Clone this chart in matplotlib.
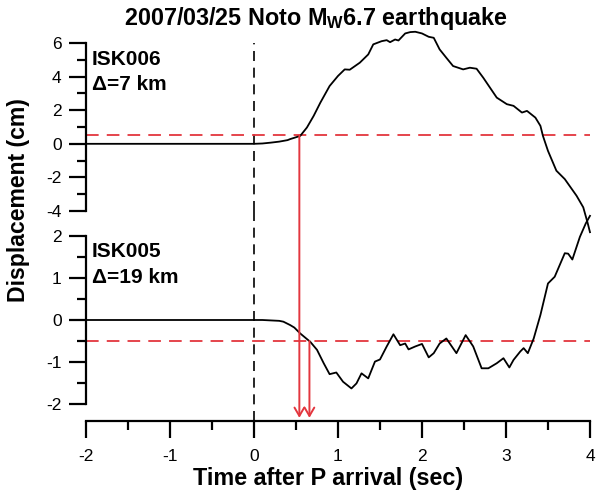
import matplotlib
matplotlib.use('Agg')
import matplotlib.pyplot as plt
from matplotlib.ticker import MultipleLocator

plt.rcParams['font.family'] = ['Liberation Sans', 'DejaVu Sans']
plt.rcParams['axes.unicode_minus'] = False
plt.rcParams['mathtext.fontset'] = 'custom'
plt.rcParams['mathtext.rm'] = 'Liberation Sans:bold'
plt.rcParams['mathtext.bf'] = 'Liberation Sans:bold'

# ISK006 displacement (cm)
t6 = [-2.0, 0.0, 0.1, 0.2, 0.3, 0.4, 0.43, 0.55, 0.63, 0.71, 0.79, 0.9, 1.0,
      1.08, 1.14, 1.26, 1.36, 1.42, 1.52, 1.58, 1.62, 1.68, 1.72, 1.8, 1.86,
      1.92, 2.0, 2.08, 2.14, 2.21, 2.29, 2.37, 2.49, 2.57, 2.65, 2.73, 2.81,
      2.89, 3.01, 3.09, 3.19, 3.25, 3.35, 3.41, 3.44, 3.5, 3.6, 3.7, 3.84,
      3.92, 3.97, 4.0]
d6 = [0.0, 0.0, 0.02, 0.07, 0.13, 0.22, 0.28, 0.47, 0.97, 1.66, 2.45, 3.44, 4.04,
      4.43, 4.41, 4.83, 5.32, 5.92, 6.11, 6.17, 6.05, 6.21, 6.15, 6.57, 6.65,
      6.67, 6.57, 6.37, 6.31, 5.62, 5.12, 4.63, 4.43, 4.53, 4.47, 3.93, 3.34,
      2.75, 2.36, 2.26, 1.86, 1.96, 1.56, 1.07, 0.47, -0.42, -1.6, -2.1, -3.09,
      -3.78, -4.67, -5.26]

# ISK005 displacement (cm)
t5 = [-2.0, 0.0, 0.1, 0.2, 0.3, 0.35, 0.43, 0.48, 0.55, 0.67, 0.75, 0.83, 0.9,
      0.98, 1.06, 1.16, 1.22, 1.28, 1.36, 1.44, 1.5, 1.58, 1.66, 1.74, 1.8,
      1.84, 1.92, 2.0, 2.08, 2.14, 2.21, 2.29, 2.41, 2.52, 2.61, 2.71, 2.79,
      2.89, 2.97, 3.04, 3.09, 3.17, 3.21, 3.26, 3.33, 3.41, 3.5, 3.58, 3.7,
      3.74, 3.79, 3.88, 3.95, 4.0]
d5 = [0.0, 0.0, 0.0, -0.01, -0.02, -0.04, -0.12, -0.18, -0.32, -0.52, -0.71,
      -1.03, -1.29, -1.25, -1.47, -1.63, -1.51, -1.27, -1.39, -0.99, -0.94,
      -0.63, -0.34, -0.6, -0.56, -0.7, -0.63, -0.57, -0.89, -0.79, -0.56,
      -0.44, -0.79, -0.36, -0.63, -1.15, -1.15, -1.03, -0.91, -1.13, -0.95,
      -0.75, -0.67, -0.79, -0.44, 0.12, 0.87, 1.03, 1.59, 1.58, 1.44, 1.98,
      2.3, 2.48]

thresh6 = 0.5
thresh5 = -0.5
pick6 = 0.54
pick5 = 0.66
arrow_end = -2.33

red = '#e3363e'

fig = plt.figure(figsize=(5.96, 4.95), dpi=100)
ax1 = fig.add_axes([0.1443, 0.5737, 0.8456, 0.3394])
ax2 = fig.add_axes([0.1443, 0.1495, 0.8456, 0.4242])

for ax in (ax1, ax2):
    ax.set_xlim(-2, 4)
    ax.patch.set_visible(False)
    ax.spines['top'].set_visible(False)
    ax.spines['right'].set_visible(False)
    ax.spines['left'].set_linewidth(1.6)
    ax.spines['bottom'].set_linewidth(1.6)
    ax.xaxis.set_major_locator(MultipleLocator(1))
    ax.xaxis.set_minor_locator(MultipleLocator(0.5))
    ax.tick_params(which='major', direction='out', length=12.5, width=1.6,
                   labelsize=12.5, pad=5)
    ax.tick_params(which='minor', direction='out', length=6.5, width=1.6)
    ax.tick_params(axis='x', pad=8)

# top panel
ax1.set_ylim(-4, 6)
ax1.spines['left'].set_bounds(-4, 6)
ax1.spines['bottom'].set_visible(False)
ax1.xaxis.set_visible(False)
ax1.yaxis.set_major_locator(MultipleLocator(2))
ax1.yaxis.set_minor_locator(MultipleLocator(1))
ax1.axvline(0, color='black', lw=1.2, ls=(0, (6, 4)))
ax1.axhline(thresh6, color=red, lw=1.3, ls=(0, (7, 4.5)))
ax1.plot(t6, d6, color='black', lw=1.3, clip_on=False, zorder=3)
ax1.text(0.012, 0.869, 'ISK006', transform=ax1.transAxes, fontsize=15,
         fontweight='bold', va='baseline')
ax1.text(0.012, 0.72, '\u0394=7 km', transform=ax1.transAxes, fontsize=15,
         fontweight='bold', va='baseline')

# bottom panel
ax2.set_ylim(-2.405, 2.595)
ax2.spines['left'].set_bounds(-2, 2)
ax2.set_yticks([-2, -1, 0, 1, 2])
ax2.set_yticks([-1.5, -0.5, 0.5, 1.5], minor=True)
ax2.axvline(0, color='black', lw=1.2, ls=(0, (6, 4)))
ax2.axhline(thresh5, color=red, lw=1.3, ls=(0, (7, 4.5)))
ax2.plot(t5, d5, color='black', lw=1.3, clip_on=False, zorder=3)
ax2.text(0.012, 0.779, 'ISK005', transform=ax2.transAxes, fontsize=15,
         fontweight='bold', va='baseline')
ax2.text(0.012, 0.656, '\u0394=19 km', transform=ax2.transAxes, fontsize=15,
         fontweight='bold', va='baseline')

arrow = dict(arrowstyle='->,head_length=0.6,head_width=0.35', color=red,
             lw=1.4, shrinkA=0, shrinkB=0)
ax2.annotate('', xy=(pick6, arrow_end), xycoords='data',
             xytext=(pick6, thresh6), textcoords=ax1.transData,
             arrowprops=arrow, annotation_clip=False)
ax2.annotate('', xy=(pick5, arrow_end), xycoords='data',
             xytext=(pick5, thresh5), textcoords='data',
             arrowprops=arrow, annotation_clip=False)

fig.text(316 / 596, 1 - 18 / 495, '2007/03/25 Noto M$_{\\mathrm{W}}$6.7 earthquake',
         ha='center', va='center', fontsize=16.8, fontweight='bold')
fig.text(328 / 596, 1 - 478 / 495, 'Time after P arrival (sec)',
         ha='center', va='center', fontsize=16.8, fontweight='bold')
fig.text(19 / 596, 1 - 200 / 495, 'Displacement (cm)', rotation=90,
         ha='center', va='center', fontsize=16.6, fontweight='bold')

fig.savefig('out.png', dpi=100)
